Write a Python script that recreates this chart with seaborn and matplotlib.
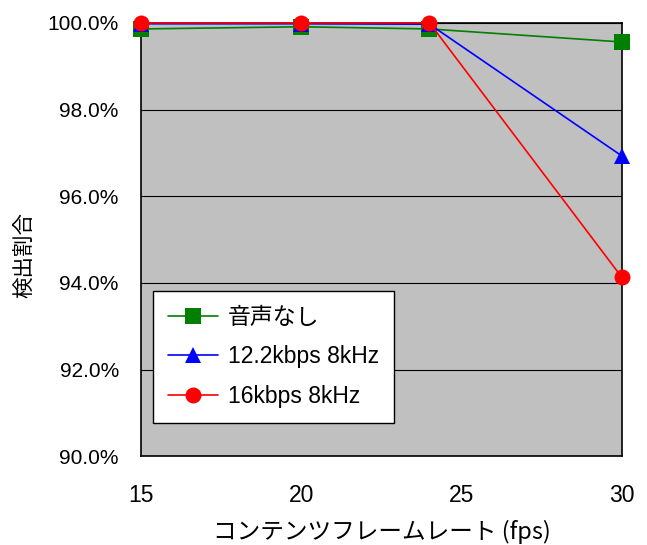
import matplotlib
matplotlib.use("Agg")
import matplotlib.pyplot as plt
import seaborn as sns
import pandas as pd
from matplotlib.ticker import FuncFormatter

# Detection rate (%) versus content frame rate
frame_rates = [15, 20, 24, 30]
series_names = ["音声なし", "12.2kbps 8kHz", "16kbps 8kHz"]
no_audio = [99.86, 99.91, 99.86, 99.56]
rate_12k = [99.98, 99.98, 99.97, 96.93]
rate_16k = [100.0, 100.0, 100.0, 94.13]
y_ticks = [90, 92, 94, 96, 98, 100]
x_ticks = [15, 20, 25, 30]

df = pd.DataFrame({
    "fps": frame_rates * 3,
    "rate": no_audio + rate_12k + rate_16k,
    "series": [s for s in series_names for _ in frame_rates],
})

sns.set_theme(style="white")
plt.rcParams["font.family"] = ["Liberation Sans", "Noto Sans CJK JP", "DejaVu Sans"]
plt.rcParams["text.color"] = "black"
plt.rcParams["xtick.color"] = "black"
plt.rcParams["ytick.color"] = "black"
plt.rcParams["axes.labelcolor"] = "black"

fig = plt.figure(figsize=(6.47, 5.45), dpi=100)
ax = fig.add_axes([0.218, 0.163, 0.743, 0.795])
ax.set_facecolor("#C0C0C0")

palette = {"音声なし": "#008000", "12.2kbps 8kHz": "#0000FF", "16kbps 8kHz": "#FF0000"}
markers = {"音声なし": "s", "12.2kbps 8kHz": "^", "16kbps 8kHz": "o"}
sizes = {"音声なし": 11, "12.2kbps 8kHz": 12, "16kbps 8kHz": 11.5}

for name in series_names:
    sub = df[df["series"] == name]
    sns.lineplot(data=sub, x="fps", y="rate", ax=ax, color=palette[name],
                 marker=markers[name], markersize=sizes[name], markeredgewidth=0,
                 linewidth=1.2, label=name, clip_on=False, zorder=3)

ax.set_xlim(15, 30)
ax.set_ylim(90, 100)
ax.set_xticks(x_ticks)
ax.set_yticks(y_ticks)
ax.yaxis.set_major_formatter(FuncFormatter(lambda v, p: f"{v:.1f}%"))
ax.grid(axis="y", color="black", linewidth=0.8)
ax.grid(axis="x", visible=False)
for sp in ax.spines.values():
    sp.set_color("black")
    sp.set_linewidth(1.2)
ax.tick_params(axis="x", direction="in", length=5, width=0.8, color="black",
               labelsize=16.5, pad=20)
ax.tick_params(axis="y", direction="in", length=0, labelsize=15, pad=16)

ax.set_xlabel("コンテンツフレームレート (fps)", fontsize=17,
              family=["Noto Sans CJK JP", "DejaVu Sans"])
ax.set_ylabel("検出割合", fontsize=15.5,
              family=["Noto Sans CJK JP", "DejaVu Sans"])
ax.xaxis.set_label_coords(0.5, -0.146)
ax.yaxis.set_label_coords(-0.22, 0.464)

leg = ax.legend(loc="upper left", bbox_to_anchor=(0.025, 0.381),
                frameon=True, fancybox=False, edgecolor="black", framealpha=1,
                borderpad=0.65, labelspacing=0.72, handlelength=2.2,
                handletextpad=0.4, borderaxespad=0,
                prop={"family": ["Liberation Sans", "Noto Sans CJK JP"], "size": 16.5})
leg.get_frame().set_linewidth(1.0)

fig.savefig("out.png", dpi=100, facecolor="white")
